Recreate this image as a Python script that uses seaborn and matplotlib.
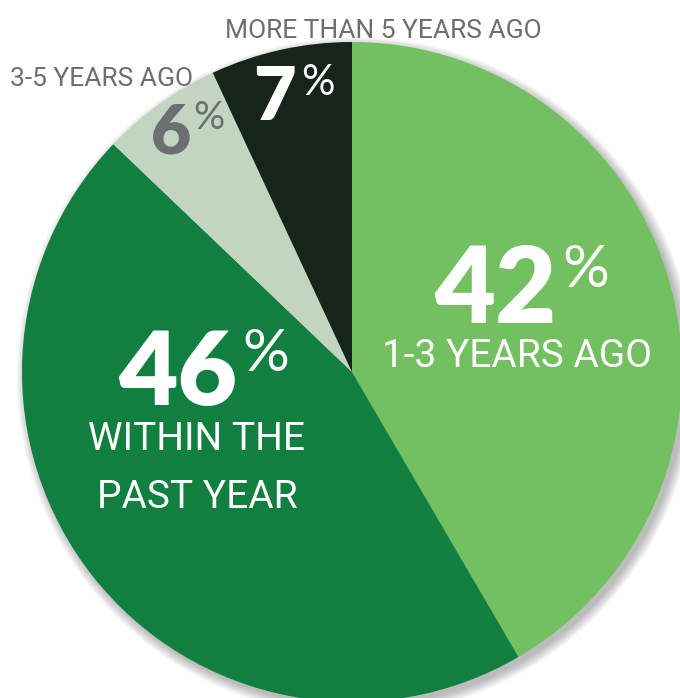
#!/usr/bin/env python3

'''pie chart: when did you last ...'''

import matplotlib
matplotlib.use('Agg')
import matplotlib.pyplot as plt
from matplotlib.patches import Circle
import seaborn as sns

# data, clockwise from 12 o'clock
labels = ['1-3 YEARS AGO', 'WITHIN THE\nPAST YEAR', '3-5 YEARS AGO', 'MORE THAN 5 YEARS AGO']
values = [42, 46, 6, 7]
colors = ['#72C05F', '#117F40', '#C2D5C1', '#16241A']

sns.set_theme(style='white')
label_font = ['Roboto', 'DejaVu Sans']
num_font = ['Lato', 'DejaVu Sans']
grey = '#6D6E71'

W, H = 680, 698
cx, cy, R = 352, 372, 330   # pie centre / radius in pixels


def px(x, y):
    '''pixel (from top-left) -> data coords'''
    return (x - cx) / R, (cy - y) / R


fig = plt.figure(figsize=(W / 100, H / 100), dpi=100)
ax = fig.add_axes([0, 0, 1, 1])

# soft drop shadow
for i in range(8):
    ax.add_patch(Circle((0.012, -0.014), 1.0 + 0.004 * i, color='black',
                        alpha=0.035, lw=0, zorder=0))

ax.pie(values, colors=colors, startangle=90, counterclock=False, radius=1,
       wedgeprops={'linewidth': 0, 'zorder': 2})

x0, y0 = px(0, 0)
x1, y1 = px(W, H)
ax.set_xlim(x0, x1)
ax.set_ylim(y1, y0)
ax.set_aspect('auto')
ax.axis('off')


def pct(num, right, base, nsize, psize, color, pgap=5):
    '''big number + smaller % sign'''
    ax.text(*px(right, base), str(num), ha='right', va='baseline', color=color,
            fontsize=nsize, fontweight='heavy', family=num_font, zorder=5)
    ax.text(*px(right + pgap, base - (nsize - psize) * 1.389 * 0.72 - 2), '%',
            ha='left', va='baseline', color=color, fontsize=psize,
            fontweight='normal', family=num_font, zorder=5)


# 42% / 1-3 years ago
pct(values[0], 557, 323, 76, 42, 'white')
ax.text(*px(517, 367), labels[0], ha='center', va='baseline', color='white',
        fontsize=28, family=label_font, zorder=5)

# 46% / within the past year
pct(values[1], 237, 405, 74, 42, 'white')
ax.text(*px(197, 450), 'WITHIN THE', ha='center', va='baseline', color='white',
        fontsize=28, family=label_font, zorder=5)
ax.text(*px(197, 508), 'PAST YEAR', ha='center', va='baseline', color='white',
        fontsize=28, family=label_font, zorder=5)

# 7% / more than 5 years ago
pct(values[3], 296, 120, 53, 30, 'white')
ax.text(*px(383, 38), labels[3], ha='center', va='baseline', color=grey,
        fontsize=19, family=label_font, zorder=5)

# 6% / 3-5 years ago
pct(values[2], 191, 153, 50, 28, grey, pgap=2)
ax.text(*px(10, 86), labels[2], ha='left', va='baseline', color=grey,
        fontsize=19, family=label_font, zorder=5)

plt.savefig('out.png', dpi=100)
